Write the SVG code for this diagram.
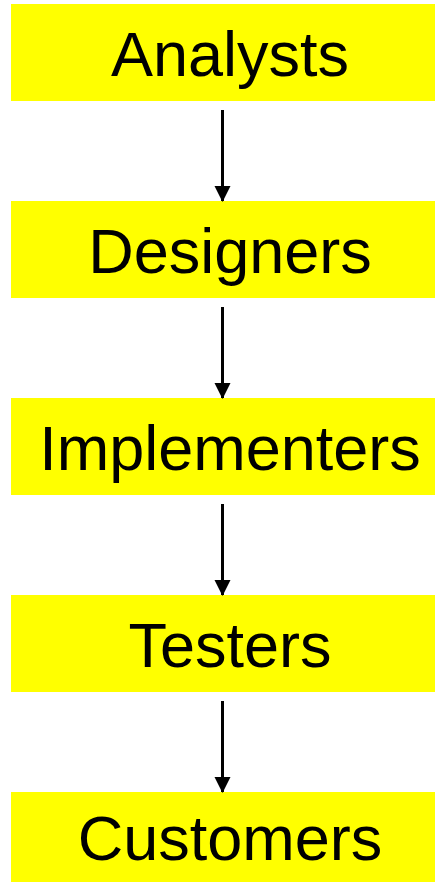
<svg xmlns="http://www.w3.org/2000/svg" width="435" height="882" viewBox="0 0 435 882">
<style>
.box{fill:#ffff00;stroke:none}
.lbl{font-family:"Liberation Sans",Arial,sans-serif;font-size:63px;fill:#000;text-anchor:middle}
.conn{stroke:#000;stroke-width:3;fill:none}
</style>
<defs>
<marker id="ah" markerUnits="userSpaceOnUse" markerWidth="16" markerHeight="17" refX="15" refY="8" orient="auto">
<path d="M0,0 L16,8 L0,16 Z" fill="#000"/>
</marker>
</defs>
<rect width="435" height="882" fill="#fff"/>
<g id="analysts"><rect class="box" x="11" y="4" width="424" height="97"/><text class="lbl" x="230" y="76">Analysts</text></g>
<g id="designers"><rect class="box" x="11" y="201" width="424" height="97"/><text class="lbl" x="230" y="273">Designers</text></g>
<g id="implementers"><rect class="box" x="11" y="398" width="424" height="97"/><text class="lbl" x="230" y="470">Implementers</text></g>
<g id="testers"><rect class="box" x="11" y="595" width="424" height="97"/><text class="lbl" x="230" y="667">Testers</text></g>
<g id="customers"><rect class="box" x="11" y="792" width="424" height="90"/><text class="lbl" x="230" y="860">Customers</text></g>
<g id="connectors">
<line class="conn" x1="222.5" y1="110" x2="222.5" y2="201" marker-end="url(#ah)"/>
<line class="conn" x1="222.5" y1="307" x2="222.5" y2="398" marker-end="url(#ah)"/>
<line class="conn" x1="222.5" y1="504" x2="222.5" y2="595" marker-end="url(#ah)"/>
<line class="conn" x1="222.5" y1="701" x2="222.5" y2="792" marker-end="url(#ah)"/>
</g>
</svg>
